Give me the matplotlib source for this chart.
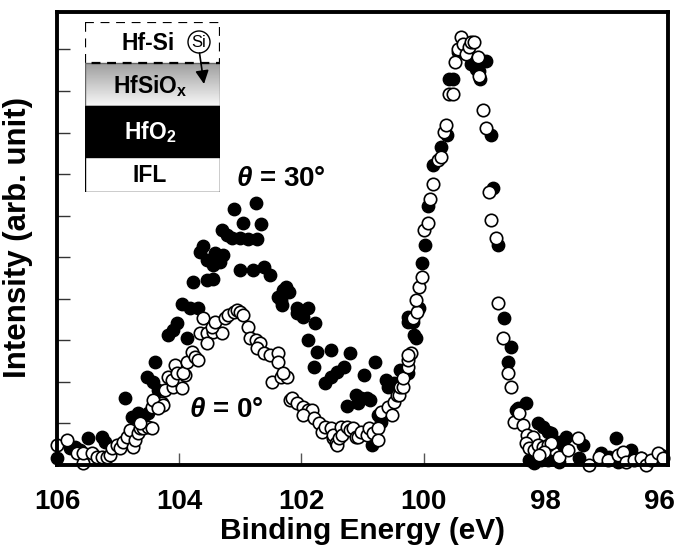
import numpy as np
import matplotlib
matplotlib.use('Agg')
import matplotlib.pyplot as plt
import matplotlib.patches as mpatches
import matplotlib.transforms as mtransforms

plt.rcParams['font.family'] = ['Liberation Sans', 'DejaVu Sans']
plt.rcParams['mathtext.fontset'] = 'custom'
plt.rcParams['mathtext.it'] = 'Liberation Sans:italic:bold'
plt.rcParams['mathtext.rm'] = 'Liberation Sans:bold'
plt.rcParams['mathtext.bf'] = 'Liberation Sans:bold'

# theta = 30 deg (filled circles)
be_30 = [106.00, 105.79, 105.70, 105.62, 105.49, 105.26, 105.21, 104.89, 104.77, 104.67,
         104.59, 104.51, 104.52, 104.43, 104.34, 104.39, 104.18, 104.10, 104.03, 103.87,
         103.95, 103.82, 103.70, 103.77, 103.54, 103.44, 103.66, 103.61, 103.54, 103.44,
         103.33, 103.41, 103.28, 103.30, 103.21, 103.13, 103.00, 102.87, 102.72, 103.11,
         102.95, 102.75, 102.66, 103.00, 102.80, 102.61, 102.51, 102.26, 102.21, 102.39,
         102.34, 102.30, 102.31, 102.07, 101.90, 102.07, 101.97, 101.77, 101.89, 101.74,
         101.52, 101.20, 101.80, 101.31, 101.41, 101.52, 101.61, 100.79, 100.98, 100.62,
         100.59, 101.11, 101.03, 100.92, 100.87, 101.08, 101.25, 100.74, 100.70, 100.84,
         100.49, 100.38, 100.25, 100.18, 100.26, 100.16, 100.13, 100.26, 100.08, 100.02,
         99.97, 99.93, 99.84, 99.72, 99.61, 99.59, 99.52, 99.43, 99.39, 99.23,
         99.15, 99.10, 99.03, 98.98, 99.07, 98.90, 98.87, 98.79, 98.69, 98.57,
         98.62, 98.49, 98.46, 98.33, 98.13, 98.05, 97.97, 97.92, 97.67, 97.79,
         97.70, 97.39, 98.28, 98.20, 98.08, 97.97, 97.79, 97.46, 96.85, 96.61,
         96.44, 96.82, 97.10, 96.97, 96.11]
int_30 = [0.17, 0.41, 0.43, 0.36, 0.65, 0.67, 0.55, 1.61, 1.16, 1.25,
          1.16, 1.25, 2.12, 2.00, 1.81, 2.48, 3.13, 3.25, 3.42, 3.06,
          3.88, 3.78, 3.78, 4.41, 4.46, 4.48, 5.13, 5.28, 4.94, 4.82,
          4.89, 5.11, 5.06, 5.66, 5.54, 5.47, 5.47, 5.45, 5.45, 6.17,
          5.83, 6.31, 5.81, 4.70, 4.70, 4.77, 4.58, 4.29, 4.17, 4.05,
          3.98, 4.22, 3.86, 3.78, 3.78, 3.66, 3.57, 3.42, 3.01, 2.72,
          2.77, 2.70, 2.36, 2.36, 2.24, 2.12, 1.98, 2.48, 2.17, 2.05,
          1.88, 1.69, 1.61, 1.61, 1.57, 1.49, 1.42, 1.20, 1.04, 0.48,
          1.98, 2.29, 3.57, 3.45, 3.45, 3.13, 3.06, 2.22, 3.78, 4.87,
          5.30, 6.22, 7.23, 7.66, 7.95, 9.28, 9.28, 9.93, 9.95, 9.64,
          9.52, 9.47, 9.71, 9.71, 9.28, 7.95, 6.67, 5.30, 3.54, 2.84,
          2.48, 1.33, 1.37, 1.49, 1.01, 0.92, 0.80, 0.77, 0.67, 0.55,
          0.43, 0.48, 0.12, 0.05, 0.12, 0.12, 0.07, 0.17, 0.65, 0.36,
          0.17, 0.07, 0.29, 0.19, 0.24]

# theta = 0 deg (open circles)
be_0 = [106.00, 105.84, 105.67, 105.57, 105.57, 105.43, 105.34, 105.26, 105.18, 105.13,
        105.10, 105.02, 104.97, 104.92, 104.85, 104.80, 104.75, 104.72, 104.67, 104.64,
        104.59, 104.51, 104.44, 104.64, 104.44, 104.36, 104.28, 104.43, 104.26, 104.34,
        104.23, 104.18, 104.10, 104.03, 103.95, 103.90, 104.11, 104.07, 104.03, 103.93,
        103.87, 103.79, 103.74, 103.70, 103.66, 103.54, 103.44, 103.30, 103.54, 103.61,
        103.46, 103.41, 103.25, 103.20, 103.11, 103.05, 103.00, 102.95, 102.87, 102.84,
        102.75, 102.67, 102.72, 102.62, 102.51, 102.38, 102.39, 102.48, 102.34, 102.23,
        102.30, 102.18, 102.15, 102.07, 101.98, 101.90, 101.82, 101.97, 101.80, 101.72,
        101.66, 101.61, 101.52, 101.49, 101.48, 101.44, 101.41, 101.39, 101.36, 101.33,
        101.25, 101.20, 101.15, 101.11, 101.08, 101.03, 100.92, 100.90, 100.82, 100.75,
        100.75, 100.70, 100.59, 100.51, 100.49, 100.43, 100.41, 100.38, 100.34, 100.33,
        100.26, 100.25, 100.21, 100.25, 100.18, 100.10, 100.13, 100.08, 100.02, 100.00,
        99.92, 99.89, 99.84, 99.77, 99.72, 99.67, 99.64, 99.59, 99.52, 99.48,
        99.44, 99.39, 99.36, 99.31, 99.26, 99.23, 99.18, 99.11, 99.10, 99.03,
        98.98, 98.93, 98.90, 98.82, 98.79, 98.70, 98.62, 98.57, 98.52, 98.44,
        98.38, 98.30, 98.21, 98.33, 98.28, 98.20, 98.13, 98.05, 97.97, 97.92,
        98.03, 98.11, 97.79, 97.64, 97.48, 97.30, 97.13, 96.98, 96.82, 96.74,
        96.69, 96.56, 96.44, 96.36, 96.28, 96.16, 96.08]
int_0 = [0.48, 0.60, 0.29, 0.05, 0.29, 0.29, 0.19, 0.19, 0.19, 0.24,
         0.41, 0.48, 0.41, 0.55, 0.67, 0.84, 0.43, 0.60, 0.77, 0.89,
         0.89, 0.92, 0.89, 1.01, 1.40, 1.49, 1.49, 1.57, 1.45, 1.37,
         1.81, 2.12, 1.88, 2.05, 1.86, 2.17, 2.05, 2.41, 2.22, 2.22,
         2.48, 2.72, 2.60, 2.53, 3.18, 3.18, 3.20, 3.18, 2.94, 3.54,
         3.33, 3.45, 3.54, 3.61, 3.69, 3.73, 3.69, 3.61, 3.33, 3.06,
         3.01, 2.94, 2.82, 2.70, 2.65, 2.70, 2.48, 2.00, 2.12, 2.12,
         2.22, 1.57, 1.61, 1.49, 1.40, 1.33, 1.33, 1.20, 1.13, 1.01,
         0.80, 0.92, 0.89, 0.65, 0.72, 0.53, 0.48, 0.65, 0.92, 0.72,
         0.92, 0.84, 0.89, 0.67, 0.67, 0.80, 0.72, 0.89, 0.77, 0.89,
         0.60, 1.28, 1.40, 1.20, 1.52, 1.69, 1.69, 1.88, 1.88, 2.10,
         2.36, 2.53, 2.70, 2.65, 3.54, 3.69, 3.98, 4.29, 4.53, 5.66,
         5.83, 6.39, 6.75, 7.35, 7.42, 8.02, 8.19, 8.92, 8.92, 9.69,
         10.00, 10.29, 10.12, 9.88, 10.05, 10.17, 10.17, 9.81, 9.35, 8.55,
         8.12, 6.58, 5.90, 5.47, 3.90, 3.06, 2.22, 1.88, 1.04, 1.25,
         0.96, 0.72, 0.67, 0.53, 0.41, 0.36, 0.48, 0.43, 0.48, 0.53,
         0.31, 0.24, 0.19, 0.36, 0.65, 0.00, 0.19, 0.12, 0.24, 0.31,
         0.07, 0.12, 0.17, 0.00, 0.12, 0.29, 0.17]

x_ticks = [106, 104, 102, 100, 98, 96]
y_ticks = list(range(1, 11))

fig = plt.figure(figsize=(6.81, 5.54), dpi=100)
ax = fig.add_axes([57 / 681, 1 - 465 / 554, 611 / 681, 453 / 554])

ax.scatter(be_30, int_30, s=80, c='black', edgecolors='black', linewidths=1.0,
           clip_on=False, zorder=3)
ax.scatter(be_0, int_0, s=80, facecolors='white', edgecolors='black', linewidths=1.2,
           clip_on=False, zorder=4)

ax.set_xlim(106, 96)
ax.set_ylim(0, 10.9)
ax.set_xticks(x_ticks)
ax.set_xticklabels([str(t) for t in x_ticks], fontsize=20, fontweight='bold')
ax.set_yticks(y_ticks)
ax.set_yticklabels([])
ax.tick_params(axis='x', direction='in', length=9, width=1, color='#555555', pad=17)
ax.tick_params(axis='y', direction='in', length=9, width=1, color='#333333')
for sp in ax.spines.values():
    sp.set_linewidth(2.8)
    sp.set_zorder(5)

# last label sits a bit left of its tick, as in the original
last = ax.get_xticklabels()[-1]
last.set_transform(last.get_transform() +
                   mtransforms.ScaledTranslation(-9 / 100, 0, fig.dpi_scale_trans))

ax.set_xlabel('Binding Energy (eV)', fontsize=21.5, fontweight='bold')
ax.xaxis.set_label_coords(0.5, -0.115)
ax.set_ylabel('Intensity (arb. unit)', fontsize=22.5, fontweight='bold')
ax.yaxis.set_label_coords(-0.04, 0.503)

ax.text(102.33, 6.87, r'$\theta$ = 30°', fontsize=20, fontweight='bold',
        ha='center', va='center', zorder=6)
ax.text(103.23, 1.33, r'$\theta$ = 0°', fontsize=20, fontweight='bold',
        ha='center', va='center', zorder=6)

# layer sketch (inset)
ins = fig.add_axes([85 / 681, 1 - 192 / 554, 135 / 681, 170 / 554])
ins.axis('off')

grad = np.linspace(0.62, 0.97, 50).reshape(-1, 1)
ins.imshow(grad, cmap='gray', vmin=0, vmax=1, extent=[0, 135, 84, 41], aspect='auto')
ins.add_patch(mpatches.Rectangle((0, 41), 135, 43, fill=False, ec='#666666', lw=1))
ins.add_patch(mpatches.Rectangle((0, 84), 135, 51, fc='black', ec='black', lw=1))
ins.add_patch(mpatches.Rectangle((0, 135), 135, 35, fc='white', ec='black', lw=1))
ins.add_patch(mpatches.Rectangle((0, 0), 135, 41, fill=False, ec='black', lw=1.6,
                                 ls=(0, (4, 3))))
ins.set_xlim(0, 135)
ins.set_ylim(170, 0)

ins.text(63, 21, 'Hf-Si', fontsize=16.5, fontweight='bold', ha='center', va='center')
ins.text(65, 64, r'HfSiO$_\mathregular{x}$', fontsize=16.5, fontweight='bold',
         ha='center', va='center')
ins.text(65, 110, r'HfO$_\mathregular{2}$', fontsize=16.5, fontweight='bold',
         color='white', ha='center', va='center')
ins.text(65, 154, 'IFL', fontsize=16.5, fontweight='bold', ha='center', va='center')

ins.add_patch(mpatches.Ellipse((114, 20), 22, 22, fill=False, ec='black', lw=1))
ins.text(114, 20, 'Si', fontsize=12, ha='center', va='center')
ins.annotate('', xy=(119, 62), xytext=(114.5, 31),
             arrowprops=dict(arrowstyle='-|>', color='black', lw=1.2,
                             mutation_scale=20, shrinkA=0, shrinkB=0))

fig.savefig('out.png', dpi=100)
